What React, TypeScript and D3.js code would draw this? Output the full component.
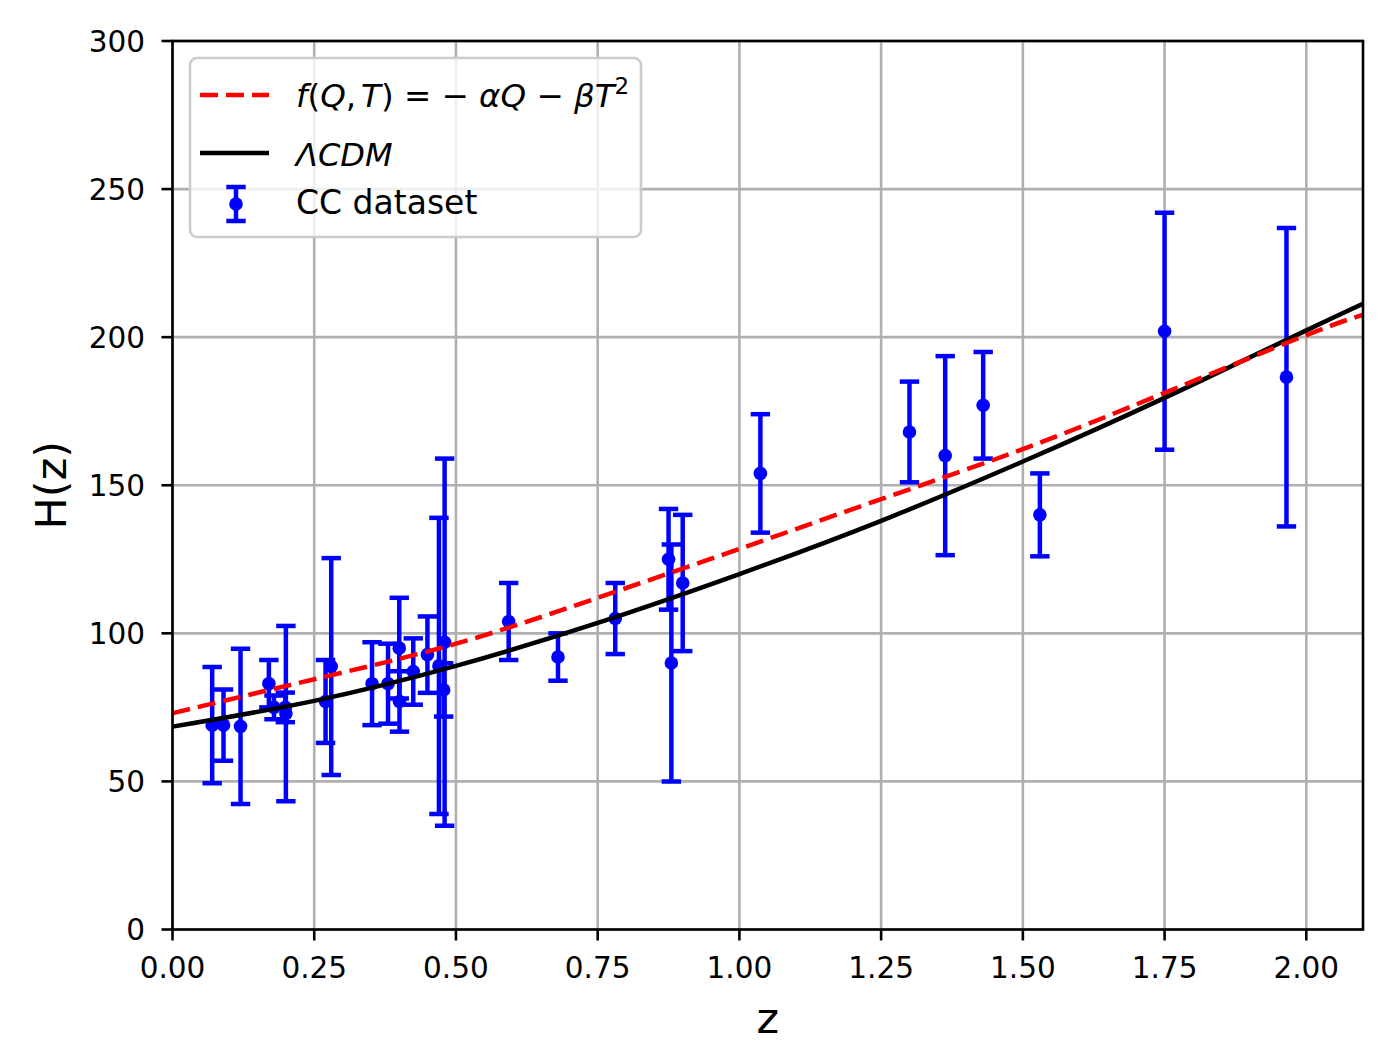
import React from 'react';
import * as d3 from 'd3';

// CC (cosmic chronometer) dataset: redshift, H(z), 1-sigma error
const zData = [0.07, 0.09, 0.12, 0.17, 0.179, 0.199, 0.2, 0.27, 0.28, 0.352, 0.3802, 0.4, 0.4004, 0.4247, 0.4497, 0.47, 0.4783, 0.48, 0.593, 0.68, 0.781, 0.875, 0.88, 0.9, 1.037, 1.3, 1.363, 1.43, 1.53, 1.75, 1.965];
const hData = [69, 69, 68.6, 83, 75, 75, 72.9, 77, 88.8, 83, 83, 95, 77, 87.1, 92.8, 89, 80.9, 97, 104, 92, 105, 125, 90, 117, 154, 168, 160, 177, 140, 202, 186.5];
const sigmaData = [19.6, 12, 26.2, 8, 4, 5, 29.6, 14, 36.6, 14, 13.5, 17, 10.2, 11.2, 12.9, 50, 9, 62, 13, 8, 12, 17, 40, 23, 20, 17, 33.6, 18, 14, 40, 50.4];

// model curves, values
const curveZ = [0, 0.25, 0.5, 0.75, 1.0, 1.25, 1.5, 1.75, 2.0, 2.1];
const lcdmH = [68.5, 77.2, 89, 103.5, 120, 138, 158, 179.5, 202.3, 211.3];
const fqtH = [73, 84.5, 96.5, 112, 128.5, 145.3, 162.2, 181.2, 200.7, 207.5];

const xTicks = [0, 0.25, 0.5, 0.75, 1.0, 1.25, 1.5, 1.75, 2.0];
const yTicks = [0, 50, 100, 150, 200, 250, 300];

const W = 1397;
const H = 1062;
const margin = { left: 172.5, right: 1363, top: 41, bottom: 929.5 };
const font = 'DejaVu Sans, sans-serif';

const App: React.FC = () => {
  const x = d3.scaleLinear().domain([0, 2.1]).range([margin.left, margin.right]);
  const y = d3.scaleLinear().domain([0, 300]).range([margin.bottom, margin.top]);

  const line = d3.line<number>()
    .x((_, i) => x(curveZ[i]))
    .curve(d3.curveNatural);

  const lcdmPath = line.y(d => y(d))(lcdmH) || '';
  const fqtPath = line.y(d => y(d))(fqtH) || '';

  const blue = '#0000ff';
  const lw = 4.5;
  const cap = 9.7;
  const dot = 6.8;

  return (
    <svg width={W} height={H} style={{ position: 'absolute', left: 0, top: 0, background: '#fff' }}
      fontFamily={font}>
      <defs>
        <clipPath id="plot">
          <rect x={margin.left} y={margin.top} width={margin.right - margin.left} height={margin.bottom - margin.top} />
        </clipPath>
      </defs>

      {/* grid */}
      <g stroke="#b0b0b0" strokeWidth={2.6}>
        {xTicks.map(t => (
          <line key={'gx' + t} x1={x(t)} x2={x(t)} y1={margin.top} y2={margin.bottom} />
        ))}
        {yTicks.map(t => (
          <line key={'gy' + t} x1={margin.left} x2={margin.right} y1={y(t)} y2={y(t)} />
        ))}
      </g>

      <g clipPath="url(#plot)">
        {/* error bars */}
        <g stroke={blue} strokeWidth={lw}>
          {zData.map((z, i) => {
            const lo = y(hData[i] - sigmaData[i]);
            const hi = y(hData[i] + sigmaData[i]);
            return (
              <g key={'eb' + i}>
                <line x1={x(z)} x2={x(z)} y1={lo} y2={hi} />
                <line x1={x(z) - cap} x2={x(z) + cap} y1={lo} y2={lo} />
                <line x1={x(z) - cap} x2={x(z) + cap} y1={hi} y2={hi} />
              </g>
            );
          })}
        </g>
        <g fill={blue}>
          {zData.map((z, i) => (
            <circle key={'pt' + i} cx={x(z)} cy={y(hData[i])} r={dot} />
          ))}
        </g>

        <path d={lcdmPath} fill="none" stroke="#000" strokeWidth={lw} />
        <path d={fqtPath} fill="none" stroke="#ff0000" strokeWidth={lw} strokeDasharray="18 8" />
      </g>

      {/* spines */}
      <rect x={margin.left} y={margin.top} width={margin.right - margin.left} height={margin.bottom - margin.top}
        fill="none" stroke="#000" strokeWidth={2.6} />

      {/* x axis ticks */}
      <g>
        {xTicks.map(t => (
          <g key={'xt' + t}>
            <line x1={x(t)} x2={x(t)} y1={margin.bottom} y2={margin.bottom + 11} stroke="#000" strokeWidth={2.6} />
            <text x={x(t)} y={978} textAnchor="middle" fontSize={29.5} fill="#000">{d3.format('.2f')(t)}</text>
          </g>
        ))}
      </g>

      {/* y axis ticks */}
      <g>
        {yTicks.map(t => (
          <g key={'yt' + t}>
            <line x1={margin.left - 11} x2={margin.left} y1={y(t)} y2={y(t)} stroke="#000" strokeWidth={2.6} />
            <text x={145} y={y(t) + 10.7} textAnchor="end" fontSize={29.5} fill="#000">{t}</text>
          </g>
        ))}
      </g>

      {/* axis labels */}
      <text x={(margin.left + margin.right) / 2} y={1033} textAnchor="middle" fontSize={43} fill="#000">z</text>
      <text transform={`translate(66,${(margin.top + margin.bottom) / 2}) rotate(-90)`} textAnchor="middle"
        fontSize={43} fill="#000">H(z)</text>

      {/* legend */}
      <g>
        <rect x={190} y={58} width={451} height={179} rx={7} fill="#fff" fillOpacity={0.8} stroke="#cccccc" strokeWidth={2.6} />
        <line x1={200} x2={269} y1={95} y2={95} stroke="#ff0000" strokeWidth={lw} strokeDasharray="18 8" />
        <line x1={200} x2={269} y1={153} y2={153} stroke="#000" strokeWidth={lw} />
        <line x1={236} x2={236} y1={187} y2={221} stroke={blue} strokeWidth={lw} />
        <line x1={226.3} x2={245.7} y1={187} y2={187} stroke={blue} strokeWidth={lw} />
        <line x1={226.3} x2={245.7} y1={221} y2={221} stroke={blue} strokeWidth={lw} />
        <circle cx={236} cy={204} r={dot} fill={blue} />

        <text x={296} y={107} fontSize={32.5} fill="#000">
          <tspan fontStyle="italic">f</tspan>
          <tspan>(</tspan>
          <tspan fontStyle="italic">Q</tspan>
          <tspan>,</tspan>
          <tspan dx={5} fontStyle="italic">T</tspan>
          <tspan>) = − </tspan>
          <tspan fontStyle="italic">αQ</tspan>
          <tspan> − </tspan>
          <tspan fontStyle="italic">βT</tspan>
          <tspan fontSize={23} dy={-13}>2</tspan>
        </text>
        <text x={296} y={166} fontSize={32} fontStyle="italic" fill="#000">ΛCDM</text>
        <text x={296} y={214} fontSize={33} fill="#000">CC dataset</text>
      </g>
    </svg>
  );
};

export default App;
